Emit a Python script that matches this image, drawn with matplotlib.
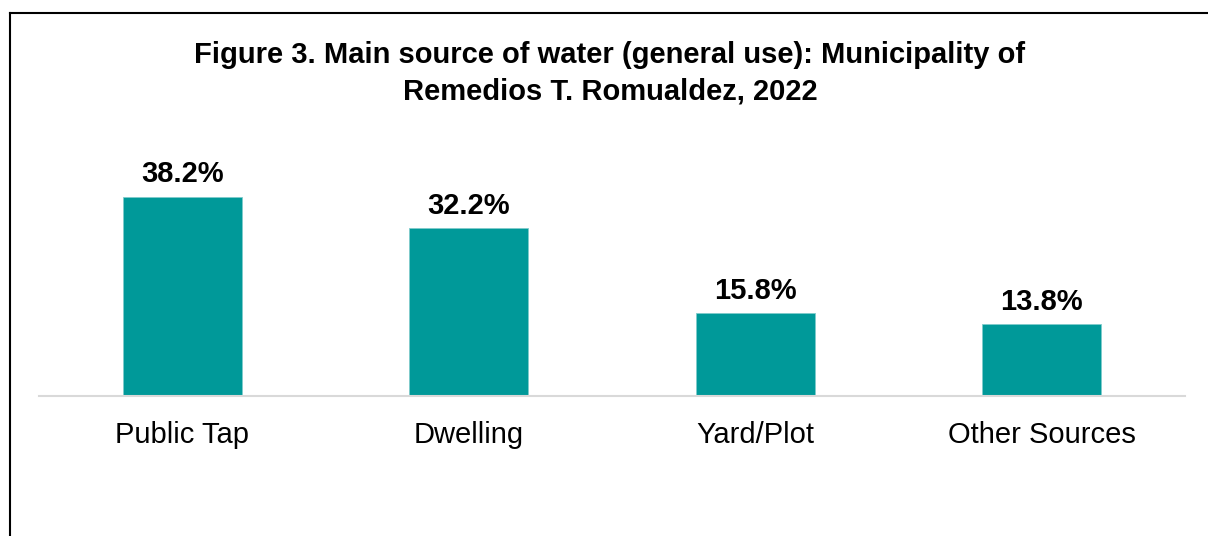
import matplotlib
matplotlib.use("Agg")
import matplotlib.pyplot as plt
from matplotlib.lines import Line2D

# data
categories = ["Public Tap", "Dwelling", "Yard/Plot", "Other Sources"]
shares = [38.2, 32.2, 15.8, 13.8]
value_labels = ["38.2%", "32.2%", "15.8%", "13.8%"]

plt.rcParams['font.family'] = ['Liberation Sans', 'DejaVu Sans']

W, H = 1208, 536
fig = plt.figure(figsize=(W / 100, H / 100), dpi=100)
fig.patch.set_facecolor('white')

# axes placed by pixel measurements from the reference
left, right, bottom, top = 39, 1185, 396, 161
ax = fig.add_axes([left / W, (H - bottom) / H, (right - left) / W, (bottom - top) / H])

x = range(len(categories))
bars = ax.bar(x, shares, width=0.415, color='#009999', edgecolor='#7fcccc', linewidth=0.6)

for b, lab in zip(bars, value_labels):
    ax.annotate(lab, (b.get_x() + b.get_width() / 2, b.get_height()),
                xytext=(0, 6), textcoords='offset points',
                ha='center', va='bottom', fontsize=21, fontweight='bold', color='black')

ax.set_xlim(-0.5, 3.5)
ax.set_ylim(0, 45)
ax.set_xticks(list(x))
ax.set_xticklabels(categories, fontsize=21)
ax.tick_params(axis='x', length=0, pad=18)
ax.set_yticks([])
for s in ['top', 'right', 'left']:
    ax.spines[s].set_visible(False)
ax.spines['bottom'].set_color('#d9d9d9')
ax.spines['bottom'].set_linewidth(1.5)

fig.text(610 / W, 1 - 73 / H,
         "Figure 3. Main source of water (general use): Municipality of\nRemedios T. Romualdez, 2022",
         ha='center', va='center', fontsize=21, fontweight='bold', linespacing=1.38)

# outer border (only left and top visible in reference)
fig.add_artist(Line2D([9.5 / W, 9.5 / W], [0, 1 - 13 / H], color='black', linewidth=1.5,
                      transform=fig.transFigure))
fig.add_artist(Line2D([9.5 / W, 1], [1 - 13 / H, 1 - 13 / H], color='black', linewidth=1.5,
                      transform=fig.transFigure))

fig.savefig("out.png", dpi=100)
